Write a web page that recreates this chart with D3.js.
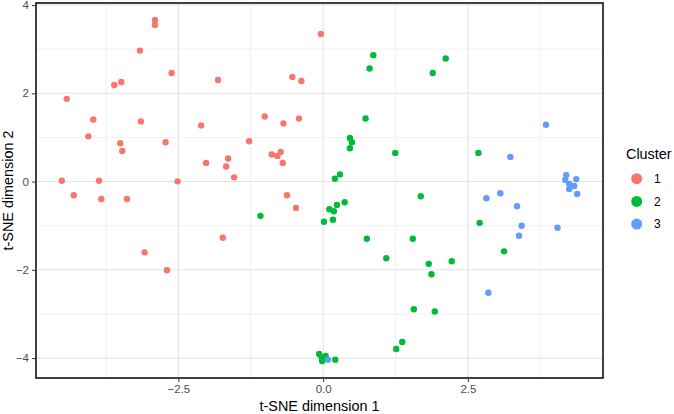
<!DOCTYPE html>
<html>
<head>
<meta charset="utf-8">
<script src="https://cdn.jsdelivr.net/npm/d3@7"></script>
<style>
  body { margin: 0; background: #fff; }
  svg { display: block; font-family: "Liberation Sans", Arial, sans-serif; }
</style>
</head>
<body>
<svg id="chart" width="674" height="414"></svg>
<script>
// t-SNE coordinates, one array per cluster
var cluster1X = [-2.905, -2.905, -3.164, -2.617, -3.607, -3.486, -4.428, -3.969, -4.055, -3.147,
  -3.503, -3.469, -2.721, -4.514, -3.871, -2.514, -4.307, -3.831, -3.388, -2.107,
  -3.083, -2.698, -0.038, -1.814, -0.531, -0.376, -1.009, -0.686, -0.417, -1.279,
  -2.021, -1.641, -1.676, -1.538, -0.888, -0.790, -0.733, -0.698, -0.624, -0.469, -1.733];
var cluster1Y = [3.660, 3.547, 2.968, 2.459, 2.189, 2.257, 1.874, 1.408, 1.025, 1.363,
  0.867, 0.694, 0.890, 0.018, 0.018, 0.005, -0.311, -0.394, -0.394, 1.273,
  -1.604, -2.009, 3.345, 2.302, 2.369, 2.279, 1.475, 1.318, 1.430, 0.912,
  0.423, 0.523, 0.342, 0.095, 0.613, 0.581, 0.671, 0.423, -0.311, -0.597, -1.273];

var cluster2X = [0.866, 0.802, 0.733, 0.462, 0.497, 0.462, 0.203, 0.290, 0.371, 0.107,
  0.238, 0.186, 0.014, 0.169, -1.083, 0.755, -0.069, -0.026, -0.017, 0.043,
  0.210, 2.117, 1.893, 1.245, 2.681, 1.686, 2.703, 3.124, 1.548, 1.090,
  1.824, 1.871, 2.221, 1.566, 1.928, 1.366, 1.262];
var cluster2Y = [2.865, 2.563, 1.430, 0.986, 0.890, 0.755, 0.063, 0.162, -0.468, -0.626,
  -0.529, -0.671, -0.912, -0.867, -0.777, -1.295, -3.908, -3.986, -4.065, -3.953,
  -4.036, 2.788, 2.459, 0.649, 0.649, -0.333, -0.935, -1.581, -1.295, -1.739,
  -1.865, -2.099, -1.806, -2.894, -2.946, -3.637, -3.795];

var cluster3X = [3.848, 3.233, 3.060, 2.819, 3.348, 3.428, 3.383, 4.048, 2.853, 0.083,
  4.198, 4.181, 4.371, 4.250, 4.336, 4.250, 4.388];
var cluster3Y = [1.288, 0.559, -0.266, -0.378, -0.559, -1.002, -1.227, -1.047, -2.518, -4.036,
  0.146, 0.034, 0.056, -0.056, -0.101, -0.169, -0.282];

var clusters = ["1", "2", "3"];
var clusterColors = ["#F8766D", "#00BA38", "#619CFF"];
var xTicks = [-2.5, 0, 2.5];
var xMinor = [-3.75, -1.25, 1.25, 3.75];
var yTicks = [-4, -2, 0, 2, 4];
var yMinor = [-3, -1, 1, 3];

var points = [];
[[cluster1X, cluster1Y], [cluster2X, cluster2Y], [cluster3X, cluster3Y]].forEach(function (c, i) {
  c[0].forEach(function (x, j) {
    points.push({ x: x, y: c[1][j], cluster: clusters[i] });
  });
});

// ggplot style 5% padding on both scales
function padded(values) {
  var ext = d3.extent(values);
  var pad = (ext[1] - ext[0]) * 0.05;
  return [ext[0] - pad, ext[1] + pad];
}

var panel = { left: 36, right: 603, top: 3, bottom: 378 };
var x = d3.scaleLinear().domain(padded(points.map(d => d.x))).range([panel.left, panel.right]);
var y = d3.scaleLinear().domain(padded(points.map(d => d.y))).range([panel.bottom, panel.top]);
var color = d3.scaleOrdinal().domain(clusters).range(clusterColors);

var svg = d3.select("#chart");

// grid
var grid = svg.append("g");
grid.selectAll(".xminor").data(xMinor).enter().append("line")
  .attr("x1", d => x(d)).attr("x2", d => x(d))
  .attr("y1", panel.top).attr("y2", panel.bottom)
  .attr("stroke", "#F0F0F0").attr("stroke-width", 1);
grid.selectAll(".yminor").data(yMinor).enter().append("line")
  .attr("y1", d => y(d)).attr("y2", d => y(d))
  .attr("x1", panel.left).attr("x2", panel.right)
  .attr("stroke", "#F0F0F0").attr("stroke-width", 1);
grid.selectAll(".xmajor").data(xTicks).enter().append("line")
  .attr("x1", d => x(d)).attr("x2", d => x(d))
  .attr("y1", panel.top).attr("y2", panel.bottom)
  .attr("stroke", "#E3E3E3").attr("stroke-width", 1.1);
grid.selectAll(".ymajor").data(yTicks).enter().append("line")
  .attr("y1", d => y(d)).attr("y2", d => y(d))
  .attr("x1", panel.left).attr("x2", panel.right)
  .attr("stroke", "#E3E3E3").attr("stroke-width", 1.1);

// points
svg.append("g").selectAll("circle").data(points).enter().append("circle")
  .attr("cx", d => x(d.x))
  .attr("cy", d => y(d.y))
  .attr("r", 3.2)
  .attr("fill", d => color(d.cluster));

// panel border
svg.append("rect")
  .attr("x", panel.left).attr("y", panel.top)
  .attr("width", panel.right - panel.left).attr("height", panel.bottom - panel.top)
  .attr("fill", "none").attr("stroke", "#111").attr("stroke-width", 1.6);

// axes
var xAxis = svg.append("g")
  .attr("transform", "translate(0," + panel.bottom + ")")
  .call(d3.axisBottom(x).tickValues(xTicks).tickFormat(d3.format(".1f")).tickSizeInner(4).tickSizeOuter(0).tickPadding(3));
var yAxis = svg.append("g")
  .attr("transform", "translate(" + panel.left + ",0)")
  .call(d3.axisLeft(y).tickValues(yTicks).tickFormat(d3.format("d")).tickSizeInner(4).tickSizeOuter(0).tickPadding(3));
[xAxis, yAxis].forEach(function (a) {
  a.select(".domain").remove();
  a.selectAll(".tick line").attr("stroke", "#333");
  a.selectAll(".tick text").attr("fill", "#4D4D4D")
    .style("font-size", "11.5px").style("font-family", "Liberation Sans, Arial, sans-serif");
});

svg.append("text")
  .attr("x", (panel.left + panel.right) / 2).attr("y", 411)
  .attr("text-anchor", "middle").style("font-size", "14.4px")
  .text("t-SNE dimension 1");
svg.append("text")
  .attr("transform", "translate(13," + (panel.top + panel.bottom) / 2 + ") rotate(-90)")
  .attr("text-anchor", "middle").style("font-size", "14.4px")
  .text("t-SNE dimension 2");

// legend
var legend = svg.append("g").attr("transform", "translate(626,0)");
legend.append("text").attr("x", 0).attr("y", 159)
  .style("font-size", "14.4px").text("Cluster");
var item = legend.selectAll(".item").data(clusters).enter().append("g")
  .attr("transform", (d, i) => "translate(0," + (178.7 + i * 22.7) + ")");
item.append("circle").attr("cx", 10.7).attr("cy", 0).attr("r", 5.5)
  .attr("fill", d => color(d));
item.append("text").attr("x", 28).attr("y", 0).attr("dy", "0.36em")
  .style("font-size", "12px").text(d => d);
</script>
</body>
</html>
